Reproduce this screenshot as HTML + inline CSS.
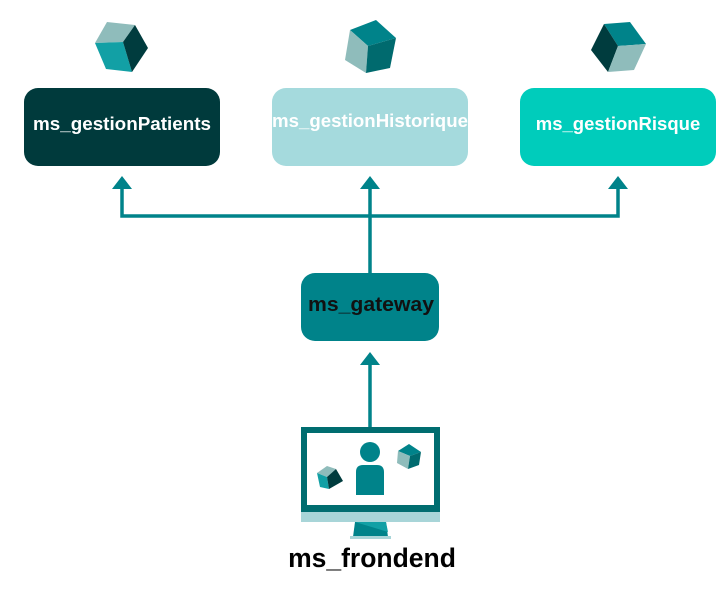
<!DOCTYPE html>
<html><head><style>
body{margin:0;background:#fff;width:728px;height:590px;overflow:hidden}
svg{display:block}
text{font-family:"Liberation Sans",sans-serif;font-weight:bold}
</style></head><body>
<svg width="728" height="590" viewBox="0 0 728 590">
<g>
<polygon points="95,43 107,22 135,25 123,42" fill="#8fbcbb"/>
<polygon points="95,43 123,42 132,72 106,69" fill="#12a0a5"/>
<polygon points="123,42 135,25 148,48 132,72" fill="#003c3e"/>
</g>
<g>
<polygon points="350,30 376,20 396,38 368,46" fill="#00838a"/>
<polygon points="350,30 368,46 366,73 345,60" fill="#8fbcbb"/>
<polygon points="368,46 396,38 390,68 366,73" fill="#006a6e"/>
</g>
<g>
<polygon points="604,24 630,22 646,44 618,46" fill="#00838a"/>
<polygon points="604,24 618,46 608,72 591,50" fill="#003c3e"/>
<polygon points="618,46 646,44 634,70 608,72" fill="#8fbcbb"/>
</g>
<rect x="24" y="88" width="196" height="78" rx="14" fill="#003a3c"/>
<text x="122" y="130" font-size="18.5" fill="#fff" text-anchor="middle" textLength="178" lengthAdjust="spacingAndGlyphs">ms_gestionPatients</text>
<rect x="272" y="88" width="196" height="78" rx="14" fill="#a5dadd"/>
<text x="370" y="127" font-size="18.5" fill="#fff" text-anchor="middle" textLength="196" lengthAdjust="spacingAndGlyphs">ms_gestionHistorique</text>
<rect x="520" y="88" width="196" height="78" rx="14" fill="#00ccbb"/>
<text x="618" y="130" font-size="18.5" fill="#fff" text-anchor="middle">ms_gestionRisque</text>
<rect x="301" y="273" width="138" height="68" rx="14" fill="#00838a"/>
<text x="371" y="311" font-size="20" fill="#111" text-anchor="middle" textLength="126" lengthAdjust="spacingAndGlyphs">ms_gateway</text>
<g stroke="#00838a" stroke-width="3.5" fill="none">
<polyline points="122,188 122,216 618,216 618,188"/>
<line x1="370" y1="188" x2="370" y2="273"/>
<line x1="370" y1="364" x2="370" y2="430"/>
</g>
<g fill="#00838a">
<polygon points="122,176 112,189 132,189"/>
<polygon points="370,176 360,189 380,189"/>
<polygon points="618,176 608,189 628,189"/>
<polygon points="370,352 360,365 380,365"/>
</g>
<rect x="301" y="427" width="139" height="86" fill="#006d70"/>
<rect x="307" y="433" width="127" height="72" fill="#fff"/>
<rect x="301" y="512" width="139" height="10" fill="#a8d5d8"/>
<polygon points="355,522 386,522 388,537 353,537" fill="#00838a"/>
<polygon points="355,522 386,522 388,532" fill="#12a0a5"/>
<rect x="350" y="536" width="41" height="3" fill="#a8d5d8"/>
<circle cx="370" cy="452" r="10" fill="#00838a"/>
<path d="M356,495 V472 Q356,465 363,465 H377 Q384,465 384,472 V495 Z" fill="#00838a"/>
<polygon points="317,473 327,466 336,469 327,477" fill="#8fbcbb"/>
<polygon points="317,473 327,477 329,489 320,487" fill="#12a0a5"/>
<polygon points="327,477 336,469 343,481 329,489" fill="#003c3e"/>
<polygon points="398,451 409,444 421,452 410,456" fill="#00838a"/>
<polygon points="398,451 410,456 408,469 397,463" fill="#8fbcbb"/>
<polygon points="410,456 421,452 419,465 408,469" fill="#006a6e"/>
<text x="372" y="567" font-size="26.5" fill="#000" text-anchor="middle">ms_frondend</text>
</svg>
</body></html>
